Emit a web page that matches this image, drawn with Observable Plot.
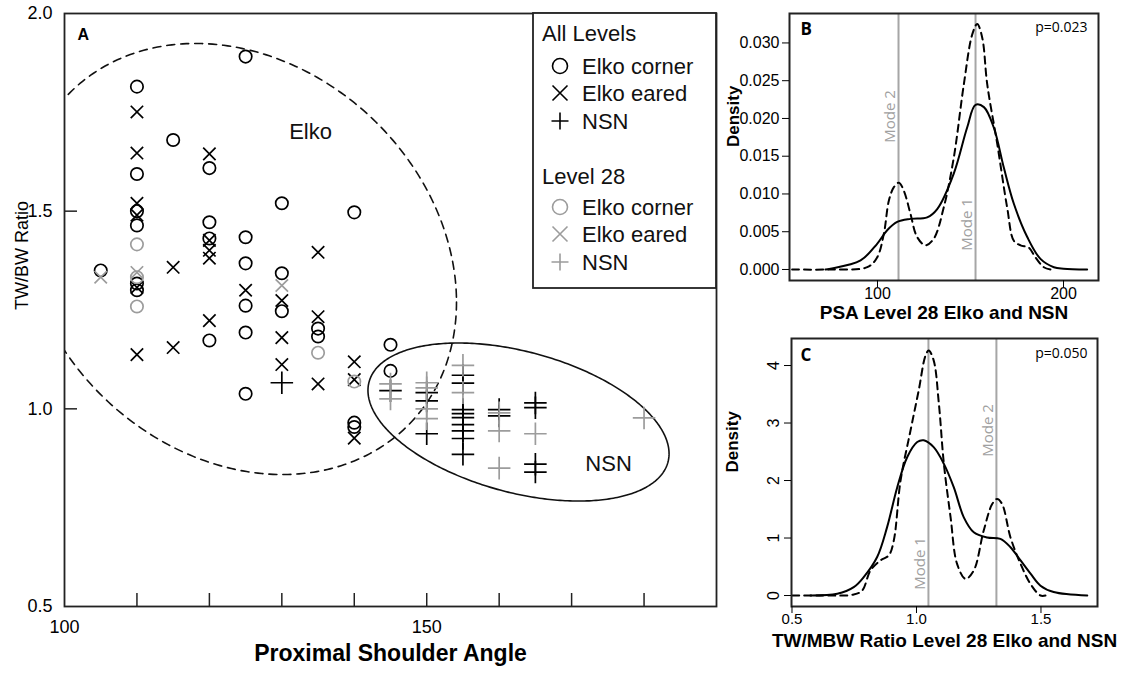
<!DOCTYPE html>
<html><head><meta charset="utf-8">
<script src="https://cdn.jsdelivr.net/npm/d3@7"></script>
<script src="https://cdn.jsdelivr.net/npm/@observablehq/plot@0.6"></script>
<style>
html,body{margin:0;padding:0;background:#fff;}
#wrap{position:relative;width:1125px;height:673px;overflow:hidden;background:#fff;font-family:"Liberation Sans",Arial,sans-serif;}
#wrap > *{position:absolute;}
</style></head><body><div id="wrap"></div>
<script>
// ---------- Panel A data: [Proximal Shoulder Angle, TW/BW Ratio] ----------
const cornerAll = [
  [105,1.350],
  [110,1.815],[110,1.594],[110,1.500],[110,1.464],[110,1.317],[110,1.300],
  [115,1.680],
  [120,1.609],[120,1.472],[120,1.431],[120,1.173],
  [125,1.891],[125,1.434],[125,1.368],[125,1.261],[125,1.193],[125,1.038],
  [130,1.520],[130,1.343],[130,1.247],
  [135,1.203],[135,1.183],
  [140,1.497],[140,0.965],[140,0.954],
  [145,1.162],[145,1.096]
];
const earedAll = [
  [110,1.751],[110,1.647],[110,1.520],[110,1.490],[110,1.307],[110,1.137],
  [115,1.358],[115,1.155],
  [120,1.645],[120,1.426],[120,1.401],[120,1.381],[120,1.223],
  [125,1.300],
  [130,1.274],[130,1.180],[130,1.112],
  [135,1.396],[135,1.233],[135,1.063],
  [140,1.119],[140,1.074],[140,0.926]
];
const nsnAll = [
  [130,1.066],
  [145,1.046],
  [150,1.041],[150,1.020],[150,0.937],
  [155,1.085],[155,1.065],[155,0.998],[155,0.988],[155,0.978],[155,0.960],[155,0.944],[155,0.925],[155,0.885],
  [160,0.998],[160,0.982],
  [165,1.015],[165,1.003],[165,0.860],[165,0.840]
];
const corner28 = [[110,1.416],[110,1.333],[110,1.259],[135,1.142],[140,1.069]];
const eared28 = [[105,1.333],[110,1.345],[130,1.312]];
const nsn28 = [
  [145,1.063],[145,1.025],
  [150,1.066],[150,1.053],[150,1.000],[150,0.975],
  [155,1.110],[155,1.041],
  [160,0.990],[160,0.944],[160,0.850],
  [165,0.937],[180,0.977]
];
// group ellipses (centre, semi-extents, phase)
const elkoEllipse = {cx:124.09, cy:1.379, ax:30.02, by:0.5452, phase:1.772};
const nsnEllipse  = {cx:162.67, cy:0.9666, ax:20.78, by:0.1999, phase:1.982};
const groupLabels = [{x:133.96, y:1.7015, t:"Elko"}, {x:175.1, y:0.8616, t:"NSN"}];
const xTicksA = [110,120,130,140,150,160,170,180];
const xLabelsA = [100,150];
const yTicksA = [1.0,1.5];
const yLabelsA = [0.5,1.0,1.5,2.0];

// ---------- Panel B: PSA density ----------
const psaSolidX = [72,74.7,90.9,99.8,105.2,110.6,117.7,126.7,132.1,141,148.2,152.7,157.2,162.5,167.9,173.3,180.5,187.6,194.8,200,212.7];
const psaSolidY = [0,0.0001,0.0012,0.0034,0.0052,0.0063,0.0067,0.0069,0.0080,0.0127,0.0188,0.0218,0.0215,0.0188,0.0135,0.0087,0.0043,0.0014,0.0003,0.0001,0];
const psaDashX = [54.1,74.7,94.5,99.8,103.4,106.1,108.8,111.5,114.2,117.7,121.3,125.8,130.3,135.6,141,146.4,150.9,153.6,156.3,159,164.4,169.7,173.3,176.9,181.3,184.9,189.4,193];
const psaDashY = [0,0,0.0003,0.0016,0.0047,0.0091,0.0109,0.0115,0.0104,0.0074,0.0043,0.0032,0.0041,0.0082,0.0148,0.0245,0.0311,0.0325,0.0307,0.0245,0.0166,0.0082,0.0038,0.0032,0.0029,0.0016,0.0003,0];
const psaModes = [{x:152.7, label:"Mode 1", ly:0.00596},{x:111.3, label:"Mode 2", ly:0.02026}];
const psaYTicks = [0,0.005,0.010,0.015,0.020,0.025,0.030];
const psaXTicks = [100,200];

// ---------- Panel C: TW/MBW ratio density ----------
const ratioSolidX = [0.574,0.682,0.748,0.788,0.842,0.882,0.9225,0.963,1.003,1.029,1.069,1.11,1.15,1.19,1.23,1.284,1.337,1.3775,1.418,1.458,1.498,1.551,1.686];
const ratioSolidY = [0,0.03,0.145,0.32,0.67,1.19,1.88,2.41,2.67,2.70,2.58,2.29,1.88,1.36,1.10,1.01,0.985,0.84,0.61,0.38,0.17,0.06,0];
const ratioDashX = [0.501,0.6145,0.748,0.782,0.815,0.855,0.889,0.909,0.936,0.976,1.009,1.036,1.049,1.069,1.09,1.11,1.137,1.163,1.197,1.23,1.27,1.304,1.324,1.344,1.3775,1.418,1.458,1.498,1.518];
const ratioDashY = [0,0,0.017,0.087,0.435,0.61,0.70,0.96,2.0,2.87,3.57,4.17,4.26,4.09,3.33,2.29,1.36,0.55,0.29,0.435,1.13,1.59,1.68,1.59,1.01,0.55,0.20,0,0];
const ratioModes = [{x:1.048, label:"Mode 1", ly:0.557},{x:1.321, label:"Mode 2", ly:2.87}];
const ratioYTicks = [0,1,2,3,4];
const ratioXTicks = [0.5,1.0,1.5];

// ---------- helpers ----------
const FONT = "Liberation Sans, Arial, sans-serif";
const GREY = "#9c9c9c";
const pairs = a => a.map(([x,y]) => ({x,y}));
const zipXY = (xs, ys) => xs.map((x,i) => ({x, y: ys[i]}));
function ellipsePath(e) {
  return d3.range(0, 361).map(i => {
    const t = i * Math.PI / 180;
    return {x: e.cx + e.ax*Math.cos(t), y: e.cy + e.by*Math.cos(t + e.phase)};
  });
}
const wrap = document.getElementById("wrap");
function place(node, left, top) { node.style.left = left + "px"; node.style.top = top + "px"; wrap.appendChild(node); }

// ---------- Panel A ----------
const frameWA = 716-64, frameHA = 606-13;
const plotA = Plot.plot({
  width: 720, height: 673,
  marginLeft: 64, marginRight: 4, marginTop: 13, marginBottom: 67,
  x: {domain: [100,190], label: null},
  y: {domain: [0.5,2.0], label: null},
  style: {fontFamily: FONT, fontSize: "18px", background: "transparent", color: "#000"},
  marks: [
    Plot.line(ellipsePath(elkoEllipse), {x:"x", y:"y", stroke:"#111", strokeWidth:1.6, strokeDasharray:"8,6", clip:true}),
    Plot.line(ellipsePath(nsnEllipse), {x:"x", y:"y", stroke:"#111", strokeWidth:1.6}),
    Plot.dot(pairs(cornerAll), {x:"x", y:"y", symbol:"circle", r:6.2, stroke:"#000", fill:"none", strokeWidth:1.7}),
    Plot.dot(pairs(earedAll), {x:"x", y:"y", symbol:"times", r:5.7, stroke:"#000", strokeWidth:1.7}),
    Plot.dot(pairs(nsnAll), {x:"x", y:"y", symbol:"plus", r:7.3, stroke:"#000", strokeWidth:1.7}),
    Plot.dot(pairs(corner28), {x:"x", y:"y", symbol:"circle", r:6.2, stroke:GREY, fill:"none", strokeWidth:1.7}),
    Plot.dot(pairs(eared28), {x:"x", y:"y", symbol:"times", r:5.7, stroke:GREY, strokeWidth:1.7}),
    Plot.dot(pairs(nsn28), {x:"x", y:"y", symbol:"plus", r:7.3, stroke:GREY, strokeWidth:1.7}),
    Plot.text(groupLabels, {x:"x", y:"y", text:"t", fontSize:22, fill:"#111"}),
    Plot.ruleX(xTicksA, {insetTop: frameHA-13, stroke:"#222", strokeWidth:1.5}),
    Plot.ruleY(yTicksA, {insetRight: frameWA-13, stroke:"#222", strokeWidth:1.5}),
    Plot.frame({stroke:"#222", strokeWidth:1.8}),
    Plot.axisX({ticks: xLabelsA, tickSize: 0, tickPadding: 14, tickFormat: d3.format("d")}),
    Plot.axisY({ticks: yLabelsA, tickSize: 0, tickPadding: 12, tickFormat: d3.format(".1f")}),
    Plot.text(["Proximal Shoulder Angle"], {text: d => d, frameAnchor:"bottom", dy:54, fontSize:23, fontWeight:"bold"}),
    Plot.text(["TW/BW Ratio"], {text: d => d, frameAnchor:"left", rotate:-90, dx:-42, fontSize:18}),
    Plot.text(["A"], {text: d => d, frameAnchor:"top-left", dx:13, dy:15, fontSize:16, fontWeight:"bold"})
  ]
});
place(plotA, 0, 0);

// ---------- Legend (panel A) ----------
const leg = d3.create("svg").attr("width", 186).attr("height", 278)
  .style("font-family", FONT).style("font-size", "22px");
leg.append("rect").attr("x",1).attr("y",1).attr("width",183).attr("height",275)
  .attr("fill","#fff").attr("stroke","#222").attr("stroke-width",1.8);
const legendGroups = [
  {title:"All Levels", ty:21, color:"#000", rows:[{s:"circle",t:"Elko corner",y:54},{s:"times",t:"Elko eared",y:81},{s:"plus",t:"NSN",y:109}]},
  {title:"Level 28", ty:164, color:GREY, rows:[{s:"circle",t:"Elko corner",y:195},{s:"times",t:"Elko eared",y:222},{s:"plus",t:"NSN",y:250}]}
];
for (const g of legendGroups) {
  leg.append("text").attr("x",10).attr("y",g.ty).attr("dy","0.35em").attr("fill","#111").text(g.title);
  for (const r of g.rows) {
    const sg = leg.append("g").attr("transform",`translate(28,${r.y})`).attr("stroke",g.color).attr("stroke-width",1.6).attr("fill","none");
    if (r.s === "circle") sg.append("circle").attr("r",7.5);
    if (r.s === "times") { sg.append("path").attr("d","M-7.5,-7.5L7.5,7.5M-7.5,7.5L7.5,-7.5"); }
    if (r.s === "plus") { sg.append("path").attr("d","M-8.5,0L8.5,0M0,-8.5L0,8.5"); }
    leg.append("text").attr("x",50).attr("y",r.y).attr("dy","0.35em").attr("fill","#111").text(r.t);
  }
}
place(leg.node(), 532, 12);

// ---------- Panel B ----------
const plotB = Plot.plot({
  width: 405, height: 336,
  marginLeft: 69, marginRight: 27, marginTop: 13, marginBottom: 56,
  x: {domain: [52.7, 218.8], label: null},
  y: {domain: [-0.00146, 0.0339], label: null},
  style: {fontFamily: FONT, fontSize: "16px", background: "transparent", color: "#000"},
  marks: [
    Plot.ruleX(psaModes, {x:"x", stroke:"#a6a6a6", strokeWidth:2}),
    Plot.text(psaModes, {x:"x", y:"ly", text:"label", rotate:-90, dx:-8, fill:"#a0a0a0", fontSize:15, fontFamily:"Open Sans"}),
    Plot.line(zipXY(psaSolidX, psaSolidY), {x:"x", y:"y", stroke:"#000", strokeWidth:2, curve:"catmull-rom"}),
    Plot.line(zipXY(psaDashX, psaDashY), {x:"x", y:"y", stroke:"#000", strokeWidth:2, strokeDasharray:"7,5", curve:"catmull-rom"}),
    Plot.frame({stroke:"#222", strokeWidth:2}),
    Plot.axisY({ticks: psaYTicks, tickSize:7, tickPadding:3, tickFormat: d3.format(".3f")}),
    Plot.axisX({ticks: psaXTicks, tickSize:7, tickPadding:0, tickFormat: d3.format("d")}),
    Plot.text(["PSA Level 28 Elko and NSN"], {text: d => d, frameAnchor:"bottom", dy:38, fontSize:19, fontWeight:"bold"}),
    Plot.text(["Density"], {text: d => d, frameAnchor:"left", rotate:-90, dx:-56, fontSize:17, fontWeight:"bold"}),
    Plot.text(["B"], {text: d => d, frameAnchor:"top-left", dx:11, dy:9, fontSize:17, fontWeight:"bold", fontFamily:"Open Sans"}),
    Plot.text(["p=0.023"], {text: d => d, frameAnchor:"top-right", dx:-11, dy:9, fontSize:14, fontFamily:"Open Sans"})
  ]
});
place(plotB, 720, 0);

// ---------- Panel C ----------
const plotC = Plot.plot({
  width: 405, height: 337,
  marginLeft: 71, marginRight: 28, marginTop: 2, marginBottom: 67,
  x: {domain: [0.498, 1.727], label: null},
  y: {domain: [-0.191, 4.47], label: null},
  style: {fontFamily: FONT, fontSize: "15px", background: "transparent", color: "#000"},
  marks: [
    Plot.ruleX(ratioModes, {x:"x", stroke:"#a6a6a6", strokeWidth:2}),
    Plot.text(ratioModes, {x:"x", y:"ly", text:"label", rotate:-90, dx:-8, fill:"#a0a0a0", fontSize:15, fontFamily:"Open Sans"}),
    Plot.line(zipXY(ratioSolidX, ratioSolidY), {x:"x", y:"y", stroke:"#000", strokeWidth:2, curve:"catmull-rom"}),
    Plot.line(zipXY(ratioDashX, ratioDashY), {x:"x", y:"y", stroke:"#000", strokeWidth:2, strokeDasharray:"7,5", curve:"catmull-rom"}),
    Plot.frame({stroke:"#222", strokeWidth:2}),
    Plot.axisY({ticks: ratioYTicks, tickSize:7, tickFormat: () => ""}),
    Plot.text(ratioYTicks, {y: d => d, text: d => String(d), frameAnchor:"left", textAnchor:"middle", rotate:-90, dx:-18, fontSize:16}),
    Plot.axisX({ticks: ratioXTicks, tickSize:7, tickPadding:0, tickFormat: d3.format(".1f")}),
    Plot.text(["TW/MBW Ratio Level 28 Elko and NSN"], {text: d => d, frameAnchor:"bottom", dy:40, fontSize:19, fontWeight:"bold"}),
    Plot.text(["Density"], {text: d => d, frameAnchor:"left", rotate:-90, dx:-59, fontSize:17, fontWeight:"bold"}),
    Plot.text(["C"], {text: d => d, frameAnchor:"top-left", dx:9, dy:10, fontSize:17, fontWeight:"bold", fontFamily:"Open Sans"}),
    Plot.text(["p=0.050"], {text: d => d, frameAnchor:"top-right", dx:-10, dy:10, fontSize:14, fontFamily:"Open Sans"})
  ]
});
place(plotC, 720, 336);
</script>
</body></html>
